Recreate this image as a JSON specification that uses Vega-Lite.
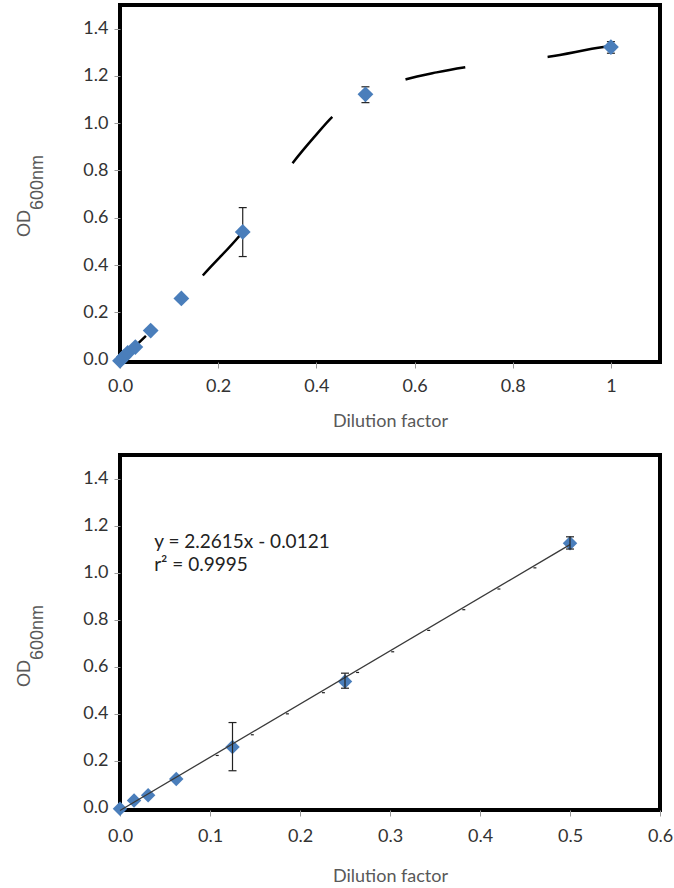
{
  "$schema": "https://vega.github.io/schema/vega-lite/v6.json",
  "padding": {"left": 13, "top": 3, "right": 0, "bottom": 0},
  "background": "white",
  "spacing": 21,
  "config": {
    "view": {"stroke": "#000", "strokeWidth": 4},
    "axis": {"grid": false, "domain": false, "tickColor": "#999", "tickSize": 6, "labelFont": "Lato", "labelFontSize": 18, "labelColor": "#333", "labelFlush": false, "titleFont": "Lato", "titleFontSize": 18, "titleFontWeight": "normal", "titleColor": "#595959"},
    "axisY": {"labelPadding": 6}
  },
  "datasets": {
    "topPts": [
      {"x": 0, "y": -0.005}, {"x": 0.0078, "y": 0.012}, {"x": 0.0156, "y": 0.028}, {"x": 0.03125, "y": 0.053},
      {"x": 0.0625, "y": 0.123}, {"x": 0.125, "y": 0.259}, {"x": 0.25, "y": 0.54}, {"x": 0.5, "y": 1.122}, {"x": 1, "y": 1.322}
    ],
    "topErr": [
      {"x": 0.25, "lo": 0.436, "hi": 0.643}, {"x": 0.5, "lo": 1.087, "hi": 1.154}, {"x": 1, "lo": 1.296, "hi": 1.345}
    ],
    "topCurve": [
      {"x": 0, "y": -0.005}, {"x": 0.0625, "y": 0.12}, {"x": 0.125, "y": 0.25}, {"x": 0.17, "y": 0.359},
      {"x": 0.249, "y": 0.538}, {"x": 0.3, "y": 0.68}, {"x": 0.353, "y": 0.835}, {"x": 0.395, "y": 0.94},
      {"x": 0.435, "y": 1.032}, {"x": 0.5, "y": 1.12}, {"x": 0.583, "y": 1.186}, {"x": 0.645, "y": 1.215},
      {"x": 0.708, "y": 1.238}, {"x": 0.79, "y": 1.262}, {"x": 0.873, "y": 1.281}, {"x": 0.985, "y": 1.322}, {"x": 1, "y": 1.326}
    ],
    "botPts": [
      {"x": 0, "y": -0.005}, {"x": 0.0156, "y": 0.03}, {"x": 0.03125, "y": 0.053}, {"x": 0.0625, "y": 0.122},
      {"x": 0.125, "y": 0.258}, {"x": 0.25, "y": 0.537}, {"x": 0.5, "y": 1.125}
    ],
    "botErr": [
      {"x": 0.125, "lo": 0.157, "hi": 0.362}, {"x": 0.25, "lo": 0.508, "hi": 0.572}, {"x": 0.5, "lo": 1.1, "hi": 1.152}
    ],
    "fitLine": [{"x": 0, "y": -0.012}, {"x": 0.5, "y": 1.119}],
    "fitMarks": [
      {"x": 0.108, "y": 0.222}, {"x": 0.147, "y": 0.31}, {"x": 0.186, "y": 0.399}, {"x": 0.226, "y": 0.489},
      {"x": 0.264, "y": 0.575}, {"x": 0.303, "y": 0.663}, {"x": 0.343, "y": 0.754}, {"x": 0.382, "y": 0.842},
      {"x": 0.421, "y": 0.93}, {"x": 0.461, "y": 1.02}
    ],
    "eq": [
      {"x": 0.038, "y": 1.13, "t": "y = 2.2615x - 0.0121"},
      {"x": 0.038, "y": 1.03, "t": "r² = 0.9995"}
    ]
  },
  "vconcat": [
    {
      "width": 540,
      "height": 357,
      "resolve": {"axis": {"y": "independent"}},
      "encoding": {
        "x": {"field": "x", "type": "quantitative", "scale": {"domain": [0, 1.1], "nice": false, "zero": false},
          "axis": {"title": "Dilution factor", "values": [0, 0.2, 0.4, 0.6, 0.8, 1], "labelPadding": 9.5, "titlePadding": 16.5, "labelExpr": "datum.value == 1 ? '1' : format(datum.value, '.1f')"}}
      },
      "layer": [
        {
          "data": {"name": "topCurve"},
          "mark": {"type": "line", "color": "#000", "strokeWidth": 2.5, "strokeDash": [61, 83], "strokeDashOffset": 25, "interpolate": "monotone"},
          "encoding": {
            "y": {"field": "y", "type": "quantitative", "scale": {"domain": [-0.01, 1.5], "nice": false, "zero": false},
              "axis": {"orient": "left", "title": "OD", "values": [0, 0.2, 0.4, 0.6, 0.8, 1.0, 1.2, 1.4], "format": ".1f",
                "titleFont": "Liberation Sans", "titleAngle": 270, "titleAlign": "center", "titleBaseline": "alphabetic", "titleX": -91, "titleY": 218}}
          }
        },
        {
          "data": {"name": "topErr"},
          "mark": {"type": "rule", "color": "#222", "strokeWidth": 1.2},
          "encoding": {
            "y": {"field": "lo", "type": "quantitative",
              "axis": {"orient": "left", "title": "600nm", "labels": false, "ticks": false, "domain": false,
                "titleFont": "Liberation Sans", "titleAngle": 270, "titleAlign": "center", "titleBaseline": "alphabetic", "titleX": -78, "titleY": 177}},
            "y2": {"field": "hi"}
          }
        },
        {
          "data": {"name": "topErr"},
          "mark": {"type": "tick", "orient": "horizontal", "size": 8, "thickness": 1.2, "color": "#222", "opacity": 1},
          "encoding": {
            "y": {"field": "hi", "type": "quantitative", "axis": null}
          }
        },
        {
          "data": {"name": "topErr"},
          "mark": {"type": "tick", "orient": "horizontal", "size": 8, "thickness": 1.2, "color": "#222", "opacity": 1},
          "encoding": {
            "y": {"field": "lo", "type": "quantitative", "axis": null}
          }
        },
        {
          "data": {"name": "topPts"},
          "mark": {"type": "point", "shape": "diamond", "filled": true, "size": 250, "color": "#4a7ebb", "opacity": 1, "strokeWidth": 0},
          "encoding": {
            "y": {"field": "y", "type": "quantitative", "axis": null}
          }
        }
      ]
    },
    {
      "width": 540,
      "height": 355,
      "resolve": {"axis": {"y": "independent"}},
      "encoding": {
        "x": {"field": "x", "type": "quantitative", "scale": {"domain": [0, 0.6], "nice": false, "zero": false},
          "axis": {"title": "Dilution factor", "values": [0, 0.1, 0.2, 0.3, 0.4, 0.5, 0.6], "format": ".1f", "labelPadding": 11.5, "titlePadding": 22}}
      },
      "layer": [
        {
          "data": {"name": "botPts"},
          "mark": {"type": "point", "shape": "diamond", "filled": true, "size": 210, "color": "#4a7ebb", "opacity": 1, "strokeWidth": 0},
          "encoding": {
            "y": {"field": "y", "type": "quantitative", "scale": {"domain": [-0.01, 1.5], "nice": false, "zero": false},
              "axis": {"orient": "left", "title": "OD", "values": [0, 0.2, 0.4, 0.6, 0.8, 1.0, 1.2, 1.4], "format": ".1f",
                "titleFont": "Liberation Sans", "titleAngle": 270, "titleAlign": "center", "titleBaseline": "alphabetic", "titleX": -91, "titleY": 218}}
          }
        },
        {
          "data": {"name": "fitLine"},
          "mark": {"type": "line", "color": "#3a3a3a", "strokeWidth": 1.3},
          "encoding": {
            "y": {"field": "y", "type": "quantitative",
              "axis": {"orient": "left", "title": "600nm", "labels": false, "ticks": false, "domain": false,
                "titleFont": "Liberation Sans", "titleAngle": 270, "titleAlign": "center", "titleBaseline": "alphabetic", "titleX": -78, "titleY": 177}}
          }
        },
        {
          "data": {"name": "fitMarks"},
          "mark": {"type": "tick", "orient": "horizontal", "size": 3, "thickness": 1.2, "color": "#222", "opacity": 1},
          "encoding": {
            "y": {"field": "y", "type": "quantitative", "axis": null}
          }
        },
        {
          "data": {"name": "botErr"},
          "mark": {"type": "rule", "color": "#222", "strokeWidth": 1.2},
          "encoding": {
            "y": {"field": "lo", "type": "quantitative", "axis": null},
            "y2": {"field": "hi"}
          }
        },
        {
          "data": {"name": "botErr"},
          "mark": {"type": "tick", "orient": "horizontal", "size": 8, "thickness": 1.2, "color": "#222", "opacity": 1},
          "encoding": {
            "y": {"field": "hi", "type": "quantitative", "axis": null}
          }
        },
        {
          "data": {"name": "botErr"},
          "mark": {"type": "tick", "orient": "horizontal", "size": 8, "thickness": 1.2, "color": "#222", "opacity": 1},
          "encoding": {
            "y": {"field": "lo", "type": "quantitative", "axis": null}
          }
        },
        {
          "data": {"name": "eq"},
          "mark": {"type": "text", "align": "left", "baseline": "middle", "font": "Lato", "fontSize": 19, "color": "#222"},
          "encoding": {
            "y": {"field": "y", "type": "quantitative", "axis": null},
            "text": {"field": "t"}
          }
        }
      ]
    }
  ]
}
